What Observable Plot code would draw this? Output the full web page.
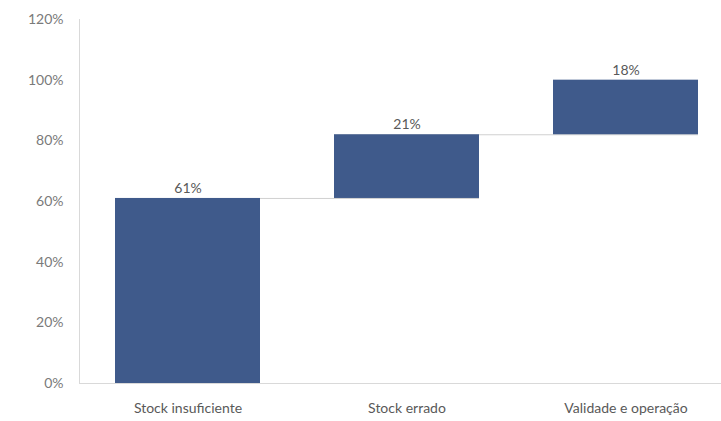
<!DOCTYPE html>
<html>
<head>
<meta charset="utf-8">
<script src="https://cdn.jsdelivr.net/npm/d3@7"></script>
<script src="https://cdn.jsdelivr.net/npm/@observablehq/plot@0.6"></script>
<style>
  html, body { margin: 0; padding: 0; background: #ffffff; }
  #chart { width: 721px; height: 421px; overflow: hidden; }
</style>
</head>
<body>
<div id="chart"></div>
<script>
const categories = ["Stock insuficiente", "Stock errado", "Validade e operação"];
const values = [0.61, 0.21, 0.18];
const labels = ["61%", "21%", "18%"];
const yTicks = [0, 0.2, 0.4, 0.6, 0.8, 1.0, 1.2];

let acc = 0;
const rows = categories.map((c, i) => {
  const start = acc;
  acc += values[i];
  return { cat: c, start, end: acc, label: labels[i] };
});
const connectors = rows.slice(0, -1).map((r, i) => ({ from: r.cat, to: rows[i + 1].cat, y: r.end }));

const chart = Plot.plot({
  width: 721,
  height: 421,
  marginTop: 19,
  marginBottom: 38,
  marginLeft: 79,
  marginRight: 0,
  style: { fontFamily: "Lato, 'Noto Sans', sans-serif", background: "#ffffff" },
  x: { domain: categories, range: [79, 734], paddingInner: 0.338, paddingOuter: 0.164, label: null },
  y: { domain: [0, 1.2], label: null },
  marks: [
    Plot.ruleY(connectors, { x1: "from", x2: "to", y: "y", stroke: "#d0d0d0", strokeWidth: 1 }),
    Plot.barY(rows, { x: "cat", y1: "start", y2: "end", fill: "#3f5a8b" }),
    Plot.text(rows, { x: "cat", y: "end", text: "label", dy: -10, fill: "#595959", fontSize: 14 }),
    Plot.ruleY([0], { stroke: "#d9d9d9" }),
    Plot.frame({ anchor: "left", stroke: "#d9d9d9" }),
    Plot.axisY({ ticks: yTicks, tickFormat: d => Math.round(d * 100) + "%", tickSize: 0, tickPadding: 16, fontSize: 14, color: "#7a7a7a", label: null }),
    Plot.axisX({ tickSize: 0, tickPadding: 20, fontSize: 14, color: "#595959", label: null })
  ]
});
document.getElementById("chart").appendChild(chart);
</script>
</body>
</html>
